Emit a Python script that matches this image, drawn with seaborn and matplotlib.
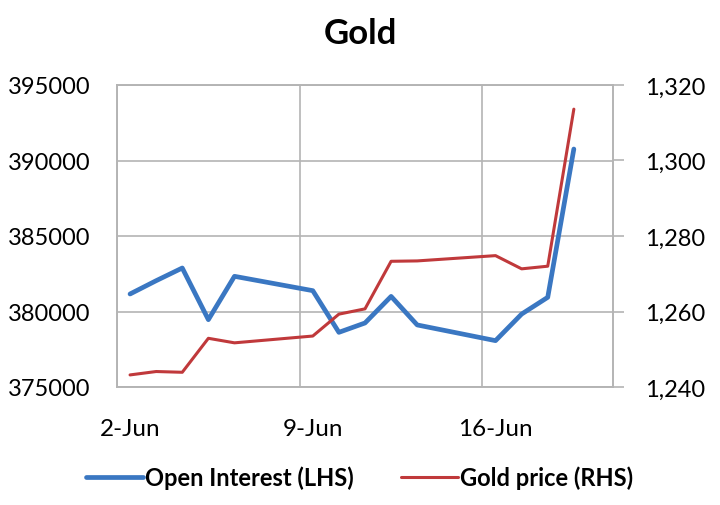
import pandas as pd
import numpy as np
import matplotlib
matplotlib.use('Agg')
import matplotlib.pyplot as plt
import matplotlib.dates as mdates
from matplotlib.lines import Line2D
import seaborn as sns

# =====================================================
# DATA
# =====================================================
dates = ['2014-06-02', '2014-06-03', '2014-06-04', '2014-06-05', '2014-06-06',
         '2014-06-09', '2014-06-10', '2014-06-11', '2014-06-12', '2014-06-13',
         '2014-06-16', '2014-06-17', '2014-06-18', '2014-06-19']
open_interest = [381160, 382040, 382880, 379460, 382330,
                 381380, 378620, 379240, 381000, 379110,
                 378070, 379830, 380940, 390760]
gold_price = [1243.2, 1244.1, 1243.9, 1252.9, 1251.7,
              1253.5, 1259.3, 1260.7, 1273.3, 1273.4,
              1274.8, 1271.3, 1272.0, 1313.6]
tick_dates = ['2014-06-02', '2014-06-09', '2014-06-16']
tick_labels = ['2-Jun', '9-Jun', '16-Jun']

blue = '#3a77c2'
red = '#c0393b'
grid_col = '#b4b4b4'

sns.set_theme(style='white')
plt.rcParams['font.family'] = ['Lato', 'DejaVu Sans']
plt.rcParams['text.color'] = 'black'

df = pd.DataFrame({
    'date': pd.to_datetime(dates) + pd.Timedelta(hours=12),  # Excel centres points within the day
    'oi': open_interest,
    'gold': gold_price,
})

fig = plt.figure(figsize=(7.2, 5.06), dpi=100)
ax = fig.add_axes([117 / 720, 1 - 388 / 506, (613 - 117) / 720, (388 - 86) / 506])
ax2 = ax.twinx()

sns.lineplot(ax=ax, data=df, x='date', y='oi', color=blue, linewidth=3.4, zorder=3)
sns.lineplot(ax=ax2, data=df, x='date', y='gold', color=red, linewidth=2.2, zorder=3)

# =====================================================
# AXES
# =====================================================
ax.set_xlim(pd.Timestamp('2014-06-02'), pd.Timestamp('2014-06-21'))
ax.set_ylim(375000, 395000)
ax.set_yticks(np.arange(375000, 395001, 5000))
ax.set_yticklabels([str(v) for v in range(375000, 395001, 5000)])
ax2.set_ylim(1240, 1320)
ax2.set_yticks(np.arange(1240, 1321, 20))
ax2.set_yticklabels([f'{v:,}' for v in range(1240, 1321, 20)])

ax.xaxis.set_minor_locator(mdates.DayLocator(bymonthday=[2, 9, 16]))
ax.set_xticks(pd.to_datetime(tick_dates) + pd.Timedelta(hours=12))
ax.set_xticklabels(tick_labels)

ax.grid(True, axis='y', color=grid_col, linewidth=1.2)
ax.grid(True, axis='x', which='minor', color=grid_col, linewidth=1.2)
ax.grid(False, axis='x', which='major')
ax.set_axisbelow(True)

ax.tick_params(axis='x', which='both', length=0, labelsize=17.5, pad=22, labelcolor='black')
ax.tick_params(axis='y', length=0, labelsize=17, pad=19, labelcolor='black')
ax2.tick_params(axis='y', length=8, width=1.2, color=grid_col, labelsize=17, pad=15, labelcolor='black')

ax.set_xlabel('')
ax.set_ylabel('')
ax2.set_ylabel('')
for a in (ax, ax2):
    for s in a.spines.values():
        s.set_color(grid_col)
        s.set_linewidth(1.2)

fig.suptitle('Gold', x=0.5, y=0.965, fontsize=25, fontweight='bold', color='black')

handles = [Line2D([], [], color=blue, linewidth=3.4),
           Line2D([], [], color=red, linewidth=2.2)]
fig.legend(handles, ['Open Interest (LHS)', 'Gold price (RHS)'],
           loc='center', bbox_to_anchor=(0.5, 1 - 478 / 506), ncol=2,
           frameon=False, prop={'weight': 'bold', 'size': 17},
           handlelength=2.4, handletextpad=0.1, columnspacing=2.0)

fig.savefig('out.png', dpi=100)
